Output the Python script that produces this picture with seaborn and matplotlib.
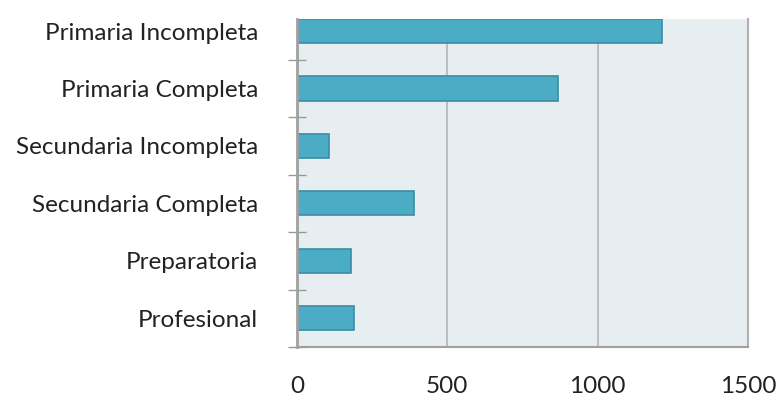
import matplotlib
matplotlib.use("Agg")
import matplotlib.pyplot as plt
import seaborn as sns
import pandas as pd
import numpy as np

categorias = ["Primaria Incompleta", "Primaria Completa", "Secundaria Incompleta",
              "Secundaria Completa", "Preparatoria", "Profesional"]
valores = [1215, 867, 107, 389, 180, 188]
xticks = [0, 500, 1000, 1500]

df = pd.DataFrame({"nivel": categorias, "n": valores})

sns.set_style("white")
plt.rcParams['font.family'] = ['Lato', 'DejaVu Sans']

fig = plt.figure(figsize=(7.78, 3.99), dpi=100)
ax = fig.add_axes([297/778, 1 - 347/399, 451/778, 328/399])
ax.set_facecolor("#E7EEF2")

sns.barplot(data=df, y="nivel", x="n", orient="h", color="#4BACC6",
            saturation=1, width=0.42, edgecolor="#3C8CA3", linewidth=1.2, ax=ax)

ax.set_xlim(0, 1500)
ax.set_ylim(5.5, -0.21)
ax.set_xticks(xticks)
ax.set_xticklabels([str(t) for t in xticks], fontsize=17.5, color="#222222")
ax.tick_params(axis="x", length=0, pad=21)
ax.set_yticks(range(len(categorias)))
ax.set_yticklabels(categorias, fontsize=17.5, color="#222222")
ax.tick_params(axis="y", which="major", length=0, pad=28)
# separadores entre categorias (incluye el borde inferior)
ax.set_yticks(np.arange(0.5, len(categorias), 1), minor=True)
ax.tick_params(axis="y", which="minor", left=True, length=13, width=1,
               color="#999999", direction="inout")
ax.set_xlabel("")
ax.set_ylabel("")

ax.grid(False)
for v in [500, 1000]:
    ax.axvline(v, color="#B5B5B5", lw=1.2, zorder=0)

ax.spines["top"].set_visible(False)
ax.spines["left"].set_color("#A0A0A0")
ax.spines["left"].set_linewidth(2)
ax.spines["bottom"].set_color("#A0A0A0")
ax.spines["bottom"].set_linewidth(1.5)
ax.spines["right"].set_color("#B0B0B0")
ax.spines["right"].set_linewidth(1.5)

fig.savefig("out.png", dpi=100)
